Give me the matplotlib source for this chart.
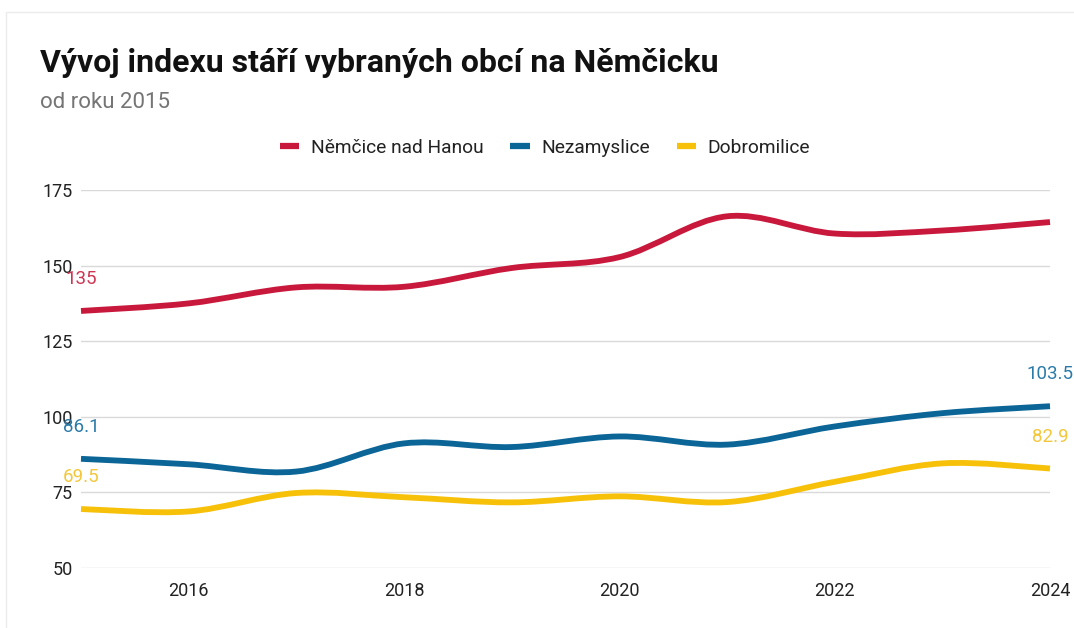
"""Script that draws the ageing index chart for the Němčice area."""

import matplotlib as mpl
import matplotlib.pyplot as plt
import numpy as np
from matplotlib.lines import Line2D
from matplotlib.patches import PathPatch
from matplotlib.path import Path

plt.rcParams["font.family"] = ["Roboto", "DejaVu Sans"]

YEARS = [2015, 2016, 2017, 2018, 2019, 2020, 2021, 2022, 2023, 2024]
NEMCICE = [135.0, 137.5, 142.8, 143.0, 149.2, 152.8, 166.3, 160.6, 161.6, 164.4]
NEZAMYSLICE = [86.1, 84.3, 81.9, 91.2, 90.0, 93.5, 90.8, 96.8, 101.2, 103.5]
DOBROMILICE = [69.5, 68.7, 74.8, 73.4, 71.7, 73.7, 71.8, 78.5, 84.6, 82.9]
SERIES_NAMES = ["Němčice nad Hanou", "Nezamyslice", "Dobromilice"]
Y_TICKS = [50, 75, 100, 125, 150, 175]
X_TICKS = [2016, 2018, 2020, 2022, 2024]

COLORS = ["#c8193c", "#0b6597", "#f7c10a"]
LABEL_COLORS = ["#cf3552", "#2b7aa8", "#f3c73a"]


def _smooth_path(x: list, y: list) -> Path:
    # Catmull-Rom style bezier through the points, like the "smooth" line option
    pts = np.column_stack([x, y]).astype(float)
    n = len(pts)
    verts = [pts[0]]
    codes = [Path.MOVETO]
    for i in range(n - 1):
        p_prev = pts[max(i - 1, 0)]
        p0, p1 = pts[i], pts[i + 1]
        p_next = pts[min(i + 2, n - 1)]
        c1 = p0 + (p1 - p_prev) / 6
        c2 = p1 - (p_next - p0) / 6
        verts += [c1, c2, p1]
        codes += [Path.CURVE4] * 3
    return Path(verts, codes)


def plot_chart() -> mpl.figure.Figure:
    fig = plt.figure(figsize=(10.74, 6.28), dpi=100)
    W, H = 1074, 628
    ax = fig.add_axes([81 / W, 60 / H, 969 / W, 378 / H])

    # faint outer frame
    fig.add_artist(
        mpl.patches.Rectangle(
            (6 / W, -0.05), 1.1, 1 - 12 / H + 0.05,
            transform=fig.transFigure, fill=False, edgecolor="#ebebeb", lw=1,
        )
    )

    ax.set_xlim(2015, 2024)
    ax.set_ylim(50, 175)
    for s in ax.spines.values():
        s.set_visible(False)
    ax.set_yticks(Y_TICKS)
    ax.set_xticks(X_TICKS)
    ax.set_xticklabels([str(t) for t in X_TICKS])
    ax.tick_params(axis="both", length=0, labelsize=13, labelcolor="#222222")
    ax.tick_params(axis="y", pad=6)
    ax.tick_params(axis="x", pad=10)
    ax.grid(axis="y", color="#d9d9d9", lw=1)
    ax.set_axisbelow(True)

    all_series = [NEMCICE, NEZAMYSLICE, DOBROMILICE]
    for k, vals in enumerate(all_series):
        patch = PathPatch(
            _smooth_path(YEARS, vals), fill=False, edgecolor=COLORS[k],
            lw=4.2, capstyle="butt", joinstyle="round", clip_on=False, zorder=3,
        )
        ax.add_patch(patch)
        # the reference shows first and last values (last one missing for red)
        ends = [0] if k == 0 else [0, len(vals) - 1]
        for i in ends:
            ax.annotate(
                f"{vals[i]:g}", (YEARS[i], vals[i]), xytext=(0, 32),
                textcoords="offset pixels", ha="center", va="center",
                fontsize=13.5, color=LABEL_COLORS[k], annotation_clip=False,
            )

    handles = [
        Line2D([], [], color=c, lw=4.5, solid_capstyle="butt") for c in COLORS
    ]
    fig.legend(
        handles, SERIES_NAMES, loc="center", bbox_to_anchor=(545 / W, 1 - 148 / H),
        ncol=3, frameon=False, fontsize=13.8, handlelength=1.0, handletextpad=0.6,
        columnspacing=1.4, labelcolor="#222222",
    )

    fig.text(40 / W, 1 - 63 / H, "Vývoj indexu stáří vybraných obcí na Němčicku",
             fontsize=23, fontweight="bold", color="#111111", va="center")
    fig.text(40 / W, 1 - 103 / H, "od roku 2015", fontsize=16,
             color="#757575", va="center")
    return fig


def main():
    """Run the main program."""
    fig = plot_chart()
    fig.savefig("out.png", dpi=100, facecolor="white")


if __name__ == "__main__":
    main()
